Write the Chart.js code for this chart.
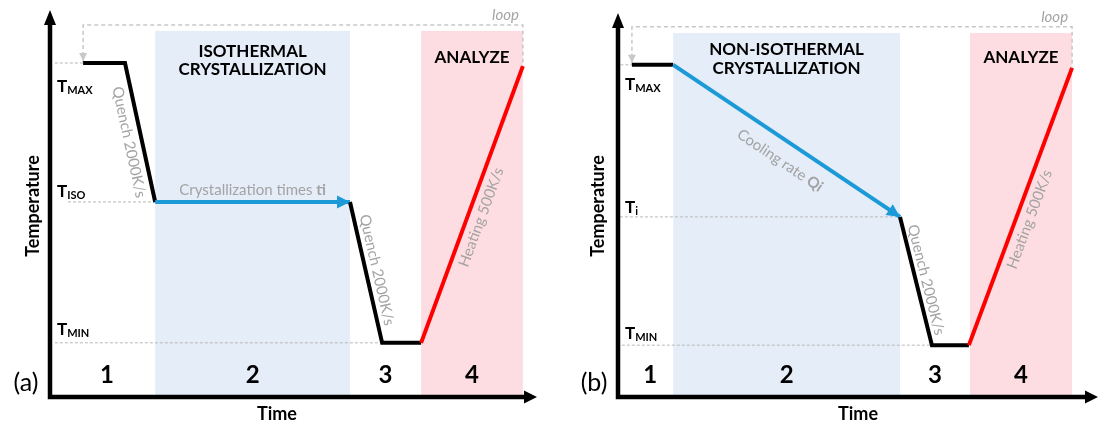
<!DOCTYPE html>
<html>
<head>
<meta charset="utf-8">
<script src="https://cdn.jsdelivr.net/npm/chart.js@4.4.1/dist/chart.umd.min.js"></script>
<style>
  html, body { margin: 0; padding: 0; background: #fff; }
  #wrap { position: relative; width: 1099px; height: 423px; }
  .panel { position: absolute; top: 0; height: 423px; }
</style>
</head>
<body>
<div id="wrap">
  <div class="panel" style="left:0;width:550px"><canvas id="chartA"></canvas></div>
  <div class="panel" style="left:550px;width:549px"><canvas id="chartB"></canvas></div>
</div>
<script>
const FONT = 'Lato, "Open Sans", sans-serif';

// =============================================
// (a) ISOTHERMAL – corners of the temperature profile
// =============================================
const aTime   = [6.8, 15.4, 21.6, 61.6, 68.2, 76.2, 97.1];
const aTemp   = [86.3, 86.3, 50.4, 50.4, 14.0, 14.0, 85.5];
const aSteps  = ['hold', 'quench', 'cryst', 'quench', 'hold', 'heat'];
const aPhases = [1.8, 21.6, 61.6, 76.2, 97.1];      // edges of phases 1..4
const aLevels = [86.3, 50.4, 14.0];                  // T_MAX, T_ISO, T_MIN
const aLevelNames = ['MAX', 'ISO', 'MIN'];
const aLevelFrom  = [1.0, 3.7, 1.0];
const aLoop  = 96.1;
const aShade = 94.6;

// =============================================
// (b) NON-ISOTHERMAL
// =============================================
const bTime   = [2.9, 11.5, 58.75, 65.4, 73.1, 94.6];
const bTemp   = [86.5, 86.5, 46.9, 13.5, 13.5, 85.7];
const bSteps  = ['hold', 'cryst', 'quench', 'hold', 'heat'];
const bPhases = [1.9, 11.5, 58.75, 73.3, 94.6];
const bLevels = [86.5, 46.9, 13.5];                  // T_MAX, T_i, T_MIN
const bLevelNames = ['MAX', 'i', 'MIN'];
const bLevelFrom  = [0.5, 0.4, 0.8];
const bLoop  = 96.4;
const bShade = 94.8;

const STEP_COLOR = { hold: '#000', quench: '#000', cryst: '#1b9ad7', heat: '#ff0000' };
const GREY_TXT = '#a3a3a3';

// ---------- helpers ----------
function richText(ctx, parts, x, y, size, color) {
  const fonts = parts.map(p => `${p[1] ? 'bold ' : ''}${size}px ${FONT}`);
  let w = 0;
  parts.forEach((p, i) => { ctx.font = fonts[i]; w += ctx.measureText(p[0]).width; });
  let cx = x - w / 2;
  ctx.textAlign = 'left';
  ctx.fillStyle = color;
  parts.forEach((p, i) => {
    ctx.font = fonts[i];
    ctx.fillText(p[0], cx, y);
    cx += ctx.measureText(p[0]).width;
  });
}

function arrowHead(ctx, x, y, ang, len, half, color) {
  ctx.save();
  ctx.translate(x, y);
  ctx.rotate(ang);
  ctx.fillStyle = color;
  ctx.beginPath();
  ctx.moveTo(0, 0);
  ctx.lineTo(-len, -half);
  ctx.lineTo(-len, half);
  ctx.closePath();
  ctx.fill();
  ctx.restore();
}

const diagram = {
  id: 'diagram',
  beforeDatasetsDraw(chart) {
    const p = chart.options.plugins.diagram;
    const { ctx } = chart;
    const sx = chart.scales.x, sy = chart.scales.y;
    const top = sy.getPixelForValue(p.shade), bot = sy.getPixelForValue(0);
    ctx.save();
    [[1, '#e5edf8'], [3, '#fddde2']].forEach(([k, col]) => {
      const x0 = sx.getPixelForValue(p.phases[k]), x1 = sx.getPixelForValue(p.phases[k + 1]);
      ctx.fillStyle = col;
      ctx.fillRect(x0, top, x1 - x0, bot - top);
    });
    ctx.restore();
  },
  afterDatasetsDraw(chart) {
    const p = chart.options.plugins.diagram;
    const { ctx, chartArea: a } = chart;
    const sx = chart.scales.x, sy = chart.scales.y;
    const X = v => sx.getPixelForValue(v), Y = v => sy.getPixelForValue(v);
    ctx.save();

    // axes with arrows
    ctx.strokeStyle = '#000';
    ctx.lineWidth = 4.5;
    ctx.lineJoin = 'miter';
    ctx.beginPath();
    ctx.moveTo(a.left, a.top + 12);
    ctx.lineTo(a.left, a.bottom);
    ctx.lineTo(a.right - 11, a.bottom);
    ctx.stroke();
    arrowHead(ctx, a.left, a.top, -Math.PI / 2, 15, 6, '#000');
    arrowHead(ctx, a.right, a.bottom, 0, 13, 6.5, '#000');

    // arrow at end of crystallization step
    const k = p.steps.indexOf('cryst');
    const cx0 = X(p.time[k]), cy0 = Y(p.temp[k]), cx1 = X(p.time[k + 1]), cy1 = Y(p.temp[k + 1]);
    arrowHead(ctx, cx1, cy1, Math.atan2(cy1 - cy0, cx1 - cx0), 13, 6.5, STEP_COLOR.cryst);

    // loop arrow
    arrowHead(ctx, X(p.time[0]), Y(p.temp[0]) - 2, Math.PI / 2, 8, 4, '#c8c8c8');

    // step annotations along the segments
    ctx.textBaseline = 'middle';
    p.notes.forEach(n => {
      const x0 = X(p.time[n.step]), y0 = Y(p.temp[n.step]);
      const x1 = X(p.time[n.step + 1]), y1 = Y(p.temp[n.step + 1]);
      const ang = Math.atan2(y1 - y0, x1 - x0);
      const cx = x0 + (x1 - x0) * n.t, cy = y0 + (y1 - y0) * n.t;
      ctx.save();
      ctx.translate(cx + Math.sin(ang) * n.off, cy - Math.cos(ang) * n.off);
      ctx.rotate(ang);
      richText(ctx, n.text, 0, 0, 15, GREY_TXT);
      ctx.restore();
    });

    // loop label
    ctx.font = `italic 15px ${FONT}`;
    ctx.fillStyle = GREY_TXT;
    ctx.textAlign = 'right';
    ctx.textBaseline = 'alphabetic';
    ctx.fillText('loop', X(p.time[p.time.length - 1]) - 4, Y(p.loop) - 5);

    // phase headings
    ctx.fillStyle = '#000';
    ctx.textAlign = 'center';
    ctx.textBaseline = 'middle';
    ctx.font = `bold 17px ${FONT}`;
    const c2 = X((p.phases[1] + p.phases[2]) / 2), c4 = X((p.phases[3] + p.phases[4]) / 2);
    p.heading.forEach((s, i) => ctx.fillText(s, c2, Y(p.headY[i])));
    ctx.fillText('ANALYZE', c4, Y(p.analyzeY));

    // phase numbers
    ctx.font = `bold 24px ${FONT}`;
    ctx.textBaseline = 'alphabetic';
    for (let i = 0; i < 4; i++) {
      ctx.fillText(String(i + 1), X((p.phases[i] + p.phases[i + 1]) / 2), a.bottom - 14);
    }

    // temperature levels
    ctx.textAlign = 'left';
    p.levels.forEach((lv, i) => {
      const x = a.left + 7, y = Y(lv) + p.levelDy[i];
      ctx.font = `bold 17px ${FONT}`;
      ctx.fillText('T', x, y);
      const w = ctx.measureText('T').width;
      ctx.font = `bold 11px ${FONT}`;
      ctx.fillText(p.levelNames[i], x + w, y + 2);
    });

    // axis titles and panel tag
    ctx.textAlign = 'center';
    ctx.font = `bold 18px ${FONT}`;
    ctx.fillText('Time', X(p.timeLabelX), a.bottom + 23);
    ctx.save();
    ctx.translate(a.left + p.tempLabelDx, 206);
    ctx.rotate(-Math.PI / 2);
    ctx.textBaseline = 'middle';
    ctx.fillText('Temperature', 0, 0);
    ctx.restore();
    ctx.font = `25px ${FONT}`;
    ctx.textBaseline = 'middle';
    ctx.fillText(p.tag, a.left - 24, a.bottom - 14);

    ctx.restore();
  }
};

function buildPanel(id, p, padding) {
  const pts = p.time.map((t, i) => ({ x: t, y: p.temp[i] }));
  const first = pts[0], last = pts[pts.length - 1];

  const guides = p.levels.map((lv, i) => ({
    data: [{ x: p.levelFrom[i], y: lv }, { x: p.time[p.temp.indexOf(lv)], y: lv }],
    borderColor: '#b8b8b8', borderWidth: 1, borderDash: [3, 2]
  }));

  return new Chart(document.getElementById(id), {
    type: 'line',
    data: {
      datasets: [
        {
          data: pts,
          borderWidth: 4,
          borderColor: '#000',
          borderJoinStyle: 'miter',
          segment: { borderColor: c => STEP_COLOR[p.steps[c.p0DataIndex]] }
        },
        ...guides,
        {
          data: [first, { x: first.x, y: p.loop }, { x: last.x, y: p.loop }, last],
          borderColor: '#c8c8c8', borderWidth: 1.5, borderDash: [4, 3]
        }
      ]
    },
    options: {
      responsive: true,
      maintainAspectRatio: false,
      animation: false,
      layout: { padding },
      elements: { point: { radius: 0 }, line: { tension: 0 } },
      datasets: { line: { clip: false } },
      scales: {
        x: { type: 'linear', min: 0, max: 100, display: false },
        y: { min: 0, max: 100, display: false }
      },
      plugins: {
        legend: { display: false },
        tooltip: { enabled: false },
        diagram: p
      }
    },
    plugins: [diagram]
  });
}

buildPanel('chartA', {
  time: aTime, temp: aTemp, steps: aSteps, phases: aPhases,
  levels: aLevels, levelNames: aLevelNames, levelFrom: aLevelFrom, levelDy: [29, -5, -8],
  loop: aLoop, shade: aShade,
  heading: ['ISOTHERMAL', 'CRYSTALLIZATION'], headY: [89.3, 84.5], analyzeY: 87.7,
  timeLabelX: 46.6, tempLabelDx: -17, tag: '(a)',
  notes: [
    { step: 1, t: 0.55, off: -13, text: [['Quench 2000K/s', false]] },
    { step: 2, t: 0.5,  off: 12,  text: [['Crystallization times ', false], ['ti', true]] },
    { step: 3, t: 0.5,  off: 11,  text: [['Quench 2000K/s', false]] },
    { step: 5, t: 0.47, off: -13, text: [['Heating 500K/s', false]] }
  ]
}, { left: 50, right: 13, top: 10, bottom: 26 });

buildPanel('chartB', {
  time: bTime, temp: bTemp, steps: bSteps, phases: bPhases,
  levels: bLevels, levelNames: bLevelNames, levelFrom: bLevelFrom, levelDy: [25, -4, -6],
  loop: bLoop, shade: bShade,
  heading: ['NON-ISOTHERMAL', 'CRYSTALLIZATION'], headY: [90.4, 85.5], analyzeY: 88.5,
  timeLabelX: 50, tempLabelDx: -20, tag: '(b)',
  notes: [
    { step: 1, t: 0.52, off: -20, text: [['Cooling rate ', false], ['Qi', true]] },
    { step: 2, t: 0.51, off: 10,  text: [['Quench 2000K/s', false]] },
    { step: 4, t: 0.47, off: -13, text: [['Heating 500K/s', false]] }
  ]
}, { left: 68, right: 1, top: 13, bottom: 26 });
</script>
</body>
</html>
